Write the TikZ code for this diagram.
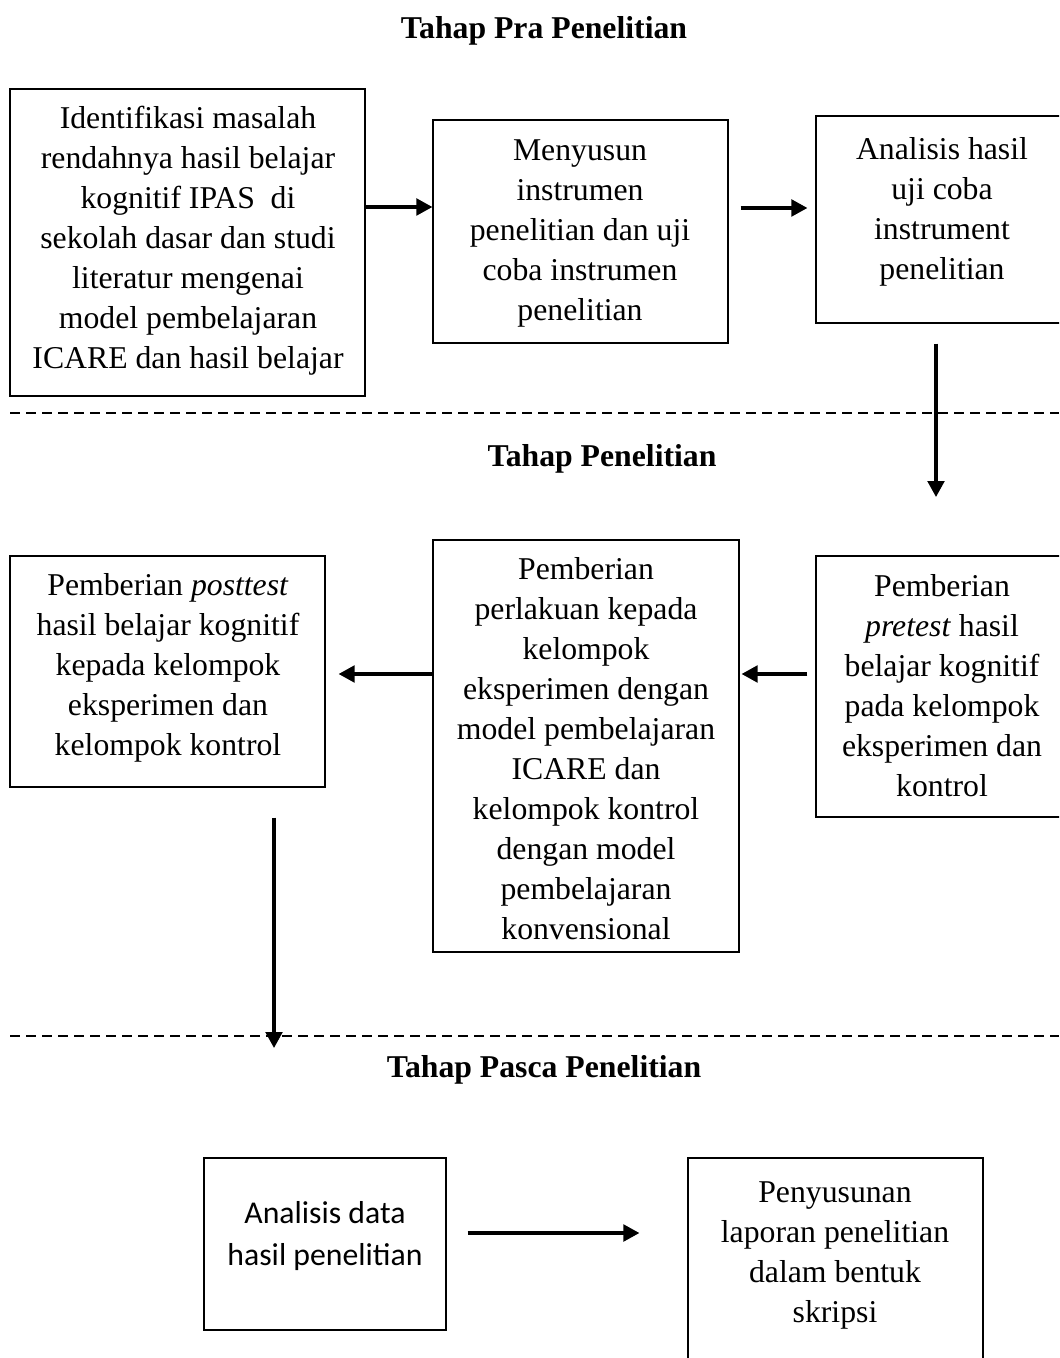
\documentclass[tikz,border=0pt]{standalone}
\usepackage{fontspec}
\setmainfont{Liberation Serif}
\newfontfamily\calibrifont{Carlito}
\usetikzlibrary{arrows.meta,calc}
\begin{document}
\begin{tikzpicture}[x=0.75pt,y=-0.75pt,
  box/.style={draw,line width=0.9pt,inner sep=0pt},
  txt/.style={align=center,font=\fontsize{23.8}{30}\selectfont,inner sep=0pt},
  ctxt/.style={align=center,font=\calibrifont\fontsize{23.8}{31.5}\selectfont,inner sep=0pt},
  arr/.style={line width=2.4pt,-{Triangle[length=12pt,width=12.5pt]}},
  sep/.style={line width=1.3pt,dash pattern=on 7.5pt off 4.5pt},
  ttl/.style={font=\fontsize{23.8}{30}\selectfont\bfseries,inner sep=0pt}]
\useasboundingbox (0,0) rectangle (1059,1358);
\clip (0,0) rectangle (1059,1358);
\fill[white] (0,0) rectangle (1059,1358);

% titles
\node[ttl] (t1) at (544,31) {Tahap Pra Penelitian};
\node[ttl] (t2) at (602,459) {Tahap Penelitian};
\node[ttl] (t3) at (544,1070) {Tahap Pasca Penelitian};

% separators
\coordinate (s1a) at (10,413); \coordinate (s1b) at (1059,413);
\coordinate (s2a) at (10,1036); \coordinate (s2b) at (1059,1036);
\draw[sep] (s1a) -- (s1b);
\draw[sep] (s2a) -- (s2b);

% boxes
\node[box,minimum width=266.25pt,minimum height=230.25pt] (b1) at (187.5,242.5) {};
\node[box,minimum width=221.25pt,minimum height=167.25pt] (b2) at (580.5,231.5) {};
\node[box,minimum width=194.25pt,minimum height=155.25pt] (b3) at (945.5,219.5) {};
\node[box,minimum width=194.25pt,minimum height=195.75pt] (b4) at (945.5,686.5) {};
\node[box,minimum width=229.5pt,minimum height=309pt] (b5) at (586,746) {};
\node[box,minimum width=236.25pt,minimum height=173.25pt] (b6) at (167.5,671.5) {};
\node[box,minimum width=181.5pt,minimum height=129pt] (b7) at (325,1244) {};
\node[box,minimum width=221.25pt,minimum height=166.5pt] (b8) at (835.5,1269) {};

% texts
\node[txt] (x1) at (188,241) {Identifikasi masalah\\rendahnya hasil belajar\\kognitif IPAS\ \ di\\sekolah dasar dan studi\\literatur mengenai\\model pembelajaran\\ICARE dan hasil belajar};
\node[txt] (x2) at (580,233) {Menyusun\\instrumen\\penelitian dan uji\\coba instrumen\\penelitian};
\node[txt] (x3) at (942,212) {Analisis hasil\\uji coba\\instrument\\penelitian};
\node[txt] (x4) at (942,685.5) {Pemberian\\\textit{pretest} hasil\\belajar kognitif\\pada kelompok\\eksperimen dan\\kontrol};
\node[txt] (x5) at (586,749) {Pemberian\\perlakuan kepada\\kelompok\\eksperimen dengan\\model pembelajaran\\ICARE dan\\kelompok kontrol\\dengan model\\pembelajaran\\konvensional};
\node[txt] (x6) at (168,668) {Pemberian \textit{posttest}\\hasil belajar kognitif\\kepada kelompok\\eksperimen dan\\kelompok kontrol};
\node[ctxt] (x7) at (325,1236) {Analisis data\\hasil penelitian};
\node[txt] (x8) at (835,1255) {Penyusunan\\laporan penelitian\\dalam bentuk\\skripsi};

% free arrow ends
\coordinate (e3) at (936,497);
\coordinate (e6) at (274,1048);

% connectors
\draw[arr] (b1.east |- 0,207) -- (b2.west |- 0,207);
\draw[arr] ($(b2.east |- 0,208)+(12,0)$) -- ($(b3.west |- 0,208)+(-8,0)$);
\draw[arr] ($(b3.south -| e3)+(0,20)$) -- (e3);
\draw[arr] ($(b4.west |- 0,674)+(-8,0)$) -- ($(b5.east |- 0,674)+(2,0)$);
\draw[arr] (b5.west |- 0,674) -- ($(b6.east |- 0,674)+(13,0)$);
\draw[arr] ($(b6.south -| e6)+(0,30)$) -- (e6);
\draw[arr] ($(b7.east |- 0,1233)+(21,0)$) -- ($(b8.west |- 0,1233)+(-48,0)$);
\end{tikzpicture}
\end{document}
